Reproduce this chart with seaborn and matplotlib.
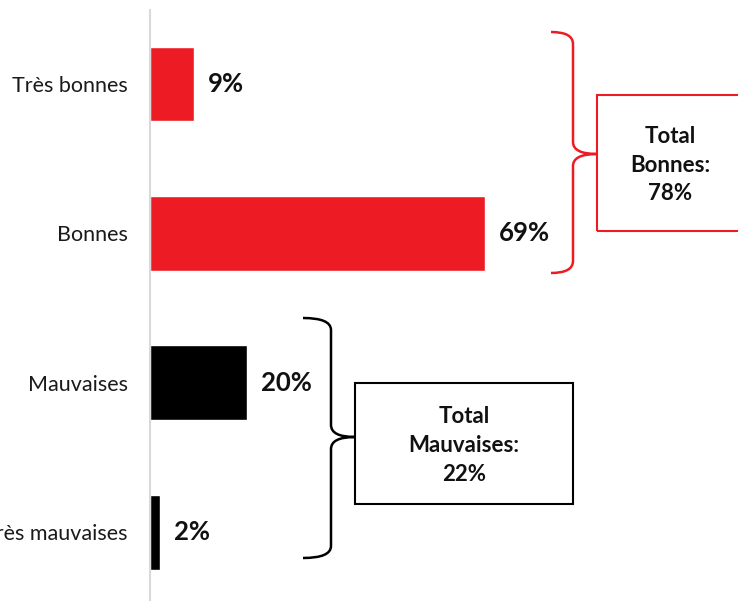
import numpy as np
import pandas as pd
import matplotlib
matplotlib.use('Agg')
import matplotlib.pyplot as plt
import seaborn as sns
from matplotlib.path import Path
from matplotlib.patches import PathPatch, Rectangle

categories = ['Très bonnes', 'Bonnes', 'Mauvaises', 'Très mauvaises']
values = [9, 69, 20, 2]
colors = ['#ED1C24', '#ED1C24', '#000000', '#000000']
total_labels = ['Total\nBonnes:\n78%', 'Total\nMauvaises:\n22%']

sns.set_theme(style='white')
plt.rcParams['font.family'] = ['Lato', 'DejaVu Sans']

W, H = 738, 601
fig = plt.figure(figsize=(W / 100, H / 100), dpi=100)
ax = fig.add_axes([150 / W, 0, 1 - 150 / W, 1 - 10 / H])

df = pd.DataFrame({'cat': categories, 'val': values})
sns.barplot(data=df, y='cat', x='val', hue='cat', palette=colors,
            orient='h', width=0.5, legend=False, ax=ax, saturation=1)

ax.set_xlim(0, (W - 150) / 4.855)
ax.set_ylim(3.46, -0.495)
ax.set_xlabel('')
ax.set_ylabel('')
ax.set_xticks([])
ax.tick_params(axis='y', length=0, labelsize=15.5, pad=16, labelcolor='#1a1a1a')
for s in ['top', 'right', 'bottom']:
    ax.spines[s].set_visible(False)
ax.spines['left'].set_color('#d9d9d9')
ax.spines['left'].set_linewidth(1.5)

for cont in ax.containers:
    lbls = ax.bar_label(cont, fmt='%d%%', padding=10, fontsize=18.5, fontweight='bold',
                        color='#111111')
    for t in lbls:
        t.set_y(t.get_position()[1])
        t.set_va('center')


def px(x, y):
    return (x / W, 1 - y / H)


def brace(x0, xv, xt, ytop, ymid, ybot, color):
    r = 12
    verts = [px(x0, ytop), px(xv, ytop), px(xv, ytop + r),
             px(xv, ymid - r), px(xv, ymid), px(xt, ymid),
             px(xt, ymid), px(xv, ymid), px(xv, ymid + r),
             px(xv, ybot - r), px(xv, ybot), px(x0, ybot)]
    codes = [Path.MOVETO, Path.CURVE3, Path.CURVE3,
             Path.LINETO, Path.CURVE3, Path.CURVE3,
             Path.MOVETO, Path.CURVE3, Path.CURVE3,
             Path.LINETO, Path.CURVE3, Path.CURVE3]
    fig.patches.append(PathPatch(Path(verts, codes), fill=False, edgecolor=color,
                                 lw=1.8, transform=fig.transFigure))


def box(x0, y0, x1, y1, color, text, tx=None):
    x, y = px(x0, y1)
    fig.patches.append(Rectangle((x, y), (x1 - x0) / W, (y1 - y0) / H, fill=False,
                                 edgecolor=color, lw=1.5, transform=fig.transFigure))
    if tx is None:
        tx = (x0 + x1) / 2
    fig.text(tx / W, 1 - ((y0 + y1) / 2 + 2) / H, text, ha='center', va='center',
             fontsize=16, fontweight='bold', linespacing=1.45, color='#111111')


brace(551, 573, 597, 32, 154, 273, '#ED1C24')
box(597, 95, 745, 231, '#ED1C24', total_labels[0], tx=670)

brace(303, 331, 355, 318, 437, 558, '#000000')
box(355, 383, 573, 504, '#000000', total_labels[1])

fig.savefig('out.png', dpi=100)
